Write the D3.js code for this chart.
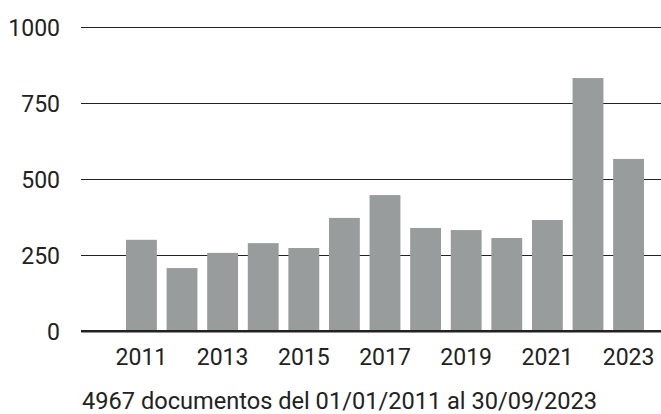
<!DOCTYPE html>
<html>
<head>
<meta charset="utf-8">
<script src="https://cdn.jsdelivr.net/npm/d3@7"></script>
<style>
  body { margin: 0; background: #fff; }
  text { font-family: Roboto, sans-serif; fill: #222; }
</style>
</head>
<body>
<div class="chart"></div>
<script>
// Data
const years = d3.range(2011, 2024);
const documents = [300, 207, 257, 289, 273, 372, 447, 339, 332, 306, 365, 832, 566];
const yTicks = [0, 250, 500, 750, 1000];
const xTicks = [2011, 2013, 2015, 2017, 2019, 2021, 2023];
const footnote = "4967 documentos del 01/01/2011 al 30/09/2023";

const data = years.map((y, i) => ({year: y, value: documents[i]}));

// Dimensions
const width = 661, height = 414;
const plot = {left: 81, right: 661, top: 27, bottom: 331};

// Scales
const xScale = d3.scaleBand()
    .domain(years)
    .range([126, 644])
    .paddingInner(.24)
    .paddingOuter(0);
const yScale = d3.scaleLinear()
    .domain([0, 1000])
    .range([plot.bottom, plot.top]);

const svg = d3.select(".chart").append("svg")
    .attr("width", width)
    .attr("height", height);

// Grid
const yAxis = svg.append("g")
    .attr("class", "axis y")
    .attr("transform", "translate(" + plot.left + ",0)")
    .call(d3.axisLeft(yScale)
      .tickValues(yTicks)
      .tickSize(-(plot.right - plot.left))
      .tickPadding(21)
      .tickFormat(d => d));
yAxis.select(".domain").remove();
yAxis.selectAll(".tick line")
    .attr("stroke", "#222")
    .attr("stroke-width", d => d === 0 ? 2 : 1.2);
yAxis.selectAll(".tick text")
    .attr("font-size", 23)
    .attr("dy", "0.35em")
    .style("fill", "#222");

// Bars
svg.append("g")
  .selectAll("rect")
  .data(data)
  .enter().append("rect")
    .attr("x", d => xScale(d.year))
    .attr("y", d => yScale(d.value))
    .attr("width", xScale.bandwidth())
    .attr("height", d => yScale(0) - yScale(d.value))
    .attr("fill", "#999c9c");

// Baseline on top of bars
svg.append("line")
    .attr("x1", plot.left).attr("x2", plot.right)
    .attr("y1", yScale(0)).attr("y2", yScale(0))
    .attr("stroke", "#222")
    .attr("stroke-width", 2);

// X axis labels
const xAxis = svg.append("g")
    .attr("class", "axis x")
    .attr("transform", "translate(0," + plot.bottom + ")")
    .call(d3.axisBottom(xScale)
      .tickValues(xTicks)
      .tickSize(0)
      .tickPadding(18));
xAxis.select(".domain").remove();
xAxis.selectAll(".tick text")
    .attr("font-size", 23)
    .style("fill", "#222");

// Footnote
svg.append("text")
    .attr("x", 82)
    .attr("y", 409)
    .attr("font-size", 23.6)
    .text(footnote);
</script>
</body>
</html>
